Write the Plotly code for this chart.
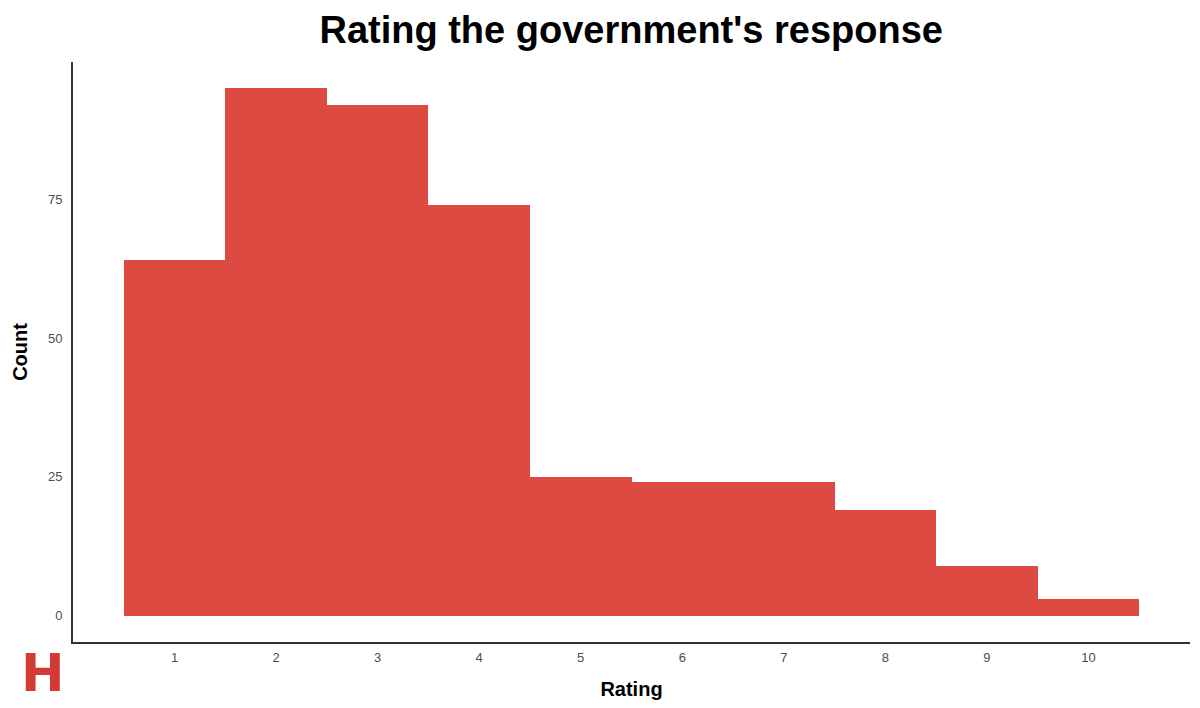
import plotly.graph_objects as go

ratings = [1, 2, 3, 4, 5, 6, 7, 8, 9, 10]
counts = [64, 95, 92, 74, 25, 24, 24, 19, 9, 3]
y_ticks = [0, 25, 50, 75]
title_text = "Rating the government's response"
x_title = "Rating"
y_title = "Count"

BAR = "#dd4a42"
FONT = "Liberation Sans, Arial, Helvetica, sans-serif"

fig = go.Figure(go.Bar(
    x=ratings, y=counts, width=1.0,
    marker=dict(color=BAR, line=dict(width=0)),
    hoverinfo="x+y",
))

fig.update_layout(
    width=1200, height=708,
    margin=dict(l=73, r=10, t=62, b=66),
    paper_bgcolor="white", plot_bgcolor="white",
    showlegend=False,
    bargap=0,
    font=dict(family=FONT, color="#4d4d4d"),
    title=dict(text=f"<b>{title_text}</b>", x=0.526, xanchor="center", y=0.958, yanchor="middle",
               font=dict(size=38, color="black", family=FONT)),
)
fig.update_xaxes(
    range=[0, 11], tickvals=ratings, ticktext=[str(r) for r in ratings],
    showgrid=False, zeroline=False, showline=True, linecolor="#333333", linewidth=2,
    ticks="", ticklabelstandoff=2, tickfont=dict(size=13, color="#4d4d4d"),
    title=dict(text=f"<b>{x_title}</b>", font=dict(size=20, color="black"), standoff=18),
    automargin=False,
)
fig.update_yaxes(
    range=[-4.75, 99.75], tickvals=y_ticks, ticktext=[str(v) for v in y_ticks],
    showgrid=False, zeroline=False, showline=True, linecolor="#333333", linewidth=2,
    ticks="", ticklabelstandoff=6, tickfont=dict(size=13, color="#4d4d4d"),
    title=dict(text=f"<b>{y_title}</b>", font=dict(size=20, color="black"), standoff=15),
    automargin=False,
)

fig.add_annotation(
    text="<b>H</b>", xref="paper", yref="paper", x=-0.0265, y=-0.053,
    xanchor="center", yanchor="middle", showarrow=False,
    font=dict(size=52, color="#d23a33", family="DejaVu Sans, sans-serif"),
)

fig.write_html(
    "out.html",
    config={"displayModeBar": False},
    post_script="document.body.style.margin='0';document.body.style.padding='0';",
)
